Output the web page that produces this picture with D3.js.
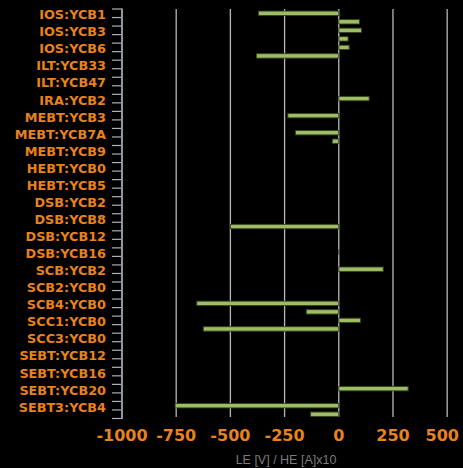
<!DOCTYPE html>
<html>
<head>
<meta charset="utf-8">
<script src="https://cdn.jsdelivr.net/npm/d3@7"></script>
<style>
  html, body { margin: 0; padding: 0; background: #000; }
  svg { display: block; }
</style>
</head>
<body>
<svg id="chart" width="463" height="468"></svg>
<script>
// Corrector magnets, in beamline order (every other name is labelled)
const magnets = [
  "IOS:YCB1", "IOS:YCB2", "IOS:YCB3", "IOS:YCB5", "IOS:YCB6", "ILT:YCB15",
  "ILT:YCB33", "ILT:YCB40", "ILT:YCB47", "ILT:YCB55", "IRA:YCB2", "IRA:YCB5",
  "MEBT:YCB3", "MEBT:YCB5", "MEBT:YCB7A", "MEBT:YCB8", "MEBT:YCB9", "MEBT:YCB11",
  "HEBT:YCB0", "HEBT:YCB3", "HEBT:YCB5", "HEBT:YCB8", "DSB:YCB2", "DSB:YCB5",
  "DSB:YCB8", "DSB:YCB10", "DSB:YCB12", "DSB:YCB14", "DSB:YCB16", "SCB:YCB0",
  "SCB:YCB2", "SCB:YCB4", "SCB2:YCB0", "SCB3:YCB0", "SCB4:YCB0", "SCB4:YCB2",
  "SCC1:YCB0", "SCC2:YCB0", "SCC3:YCB0", "SEBT:YCB8", "SEBT:YCB12", "SEBT:YCB14",
  "SEBT:YCB16", "SEBT:YCB18", "SEBT:YCB20", "SEBT3:YCB2", "SEBT3:YCB4", "SEBT3:YCB6"
];

// Setpoint per magnet: LE in volts, HE in amps x10
const setpoints = [
  -370, 95, 105, 43, 48, -380,
  0, 0, 0, 0, 140, 0,
  -235, 0, -200, -30, 0, 0,
  0, 0, 0, 0, 0, 0,
  0, -500, 0, 0, 3, 0,
  205, 0, 0, 0, -655, -150,
  100, -625, 0, 0, 0, 0,
  0, 0, 320, 0, -755, -130
];

const xTicks = [-1000, -750, -500, -250, 0, 250, 500];
const xDomain = [-1000, 550];
const xTitle = "LE [V] / HE [A]x10";

const W = 463, H = 468;
const plotL = 122, plotR = 458, plotT = 9, plotB = 418.5;

const svg = d3.select("#chart");
svg.append("rect").attr("width", W).attr("height", H).attr("fill", "#000");

const x = d3.scaleLinear().domain(xDomain).range([plotL, plotR]);
const y = d3.scaleBand().domain(magnets).range([plotT, plotB]).paddingInner(0).paddingOuter(0);

const labelFont = "DejaVu Sans, sans-serif";
const orange = "#e8821c";

// vertical grid lines with their tick stubs
const grid = svg.append("g");
grid.selectAll("line")
  .data(xTicks.filter(t => t !== xDomain[0]))
  .join("line")
  .attr("x1", d => x(d)).attr("x2", d => x(d))
  .attr("y1", plotT).attr("y2", 417)
  .attr("stroke", "#b8b8b8")
  .attr("stroke-width", 1.3);

// bars
const rows = magnets.map((m, i) => ({ name: m, value: setpoints[i] }));
const barH = 4.4;
svg.append("g").selectAll("rect")
  .data(rows.filter(d => d.value !== 0))
  .join("rect")
  .attr("x", d => x(Math.min(0, d.value)))
  .attr("width", d => Math.abs(x(d.value) - x(0)))
  .attr("y", d => y(d.name) + y.bandwidth() / 2 - barH / 2)
  .attr("height", barH)
  .attr("fill", "#9dbd64")
  .attr("stroke", "#35421f")
  .attr("stroke-width", 0.9);

// y axis: a tick at every band boundary, labels on every other row
const yAxis = svg.append("g");
const bounds = d3.range(magnets.length + 1).map(i => plotT + i * y.bandwidth());
yAxis.selectAll("line.tick")
  .data(bounds)
  .join("line")
  .attr("class", "tick")
  .attr("x1", plotL - 10).attr("x2", plotL)
  .attr("y1", d => d).attr("y2", d => d)
  .attr("stroke", "#a9b1ba")
  .attr("stroke-width", 1.2);
yAxis.append("line")
  .attr("x1", plotL).attr("x2", plotL)
  .attr("y1", plotT - 0.5).attr("y2", plotB + 0.5)
  .attr("stroke", "#8e97a2")
  .attr("stroke-width", 2);
yAxis.selectAll("text")
  .data(magnets.filter((m, i) => i % 2 === 0))
  .join("text")
  .attr("x", plotL - 16)
  .attr("y", d => y(d) + y.bandwidth() / 2 + 1.5)
  .attr("dy", "0.35em")
  .attr("text-anchor", "end")
  .attr("font-family", labelFont)
  .attr("font-weight", "bold")
  .attr("font-size", "12.8px")
  .attr("fill", orange)
  .text(d => d);

// x tick labels, kept inside the canvas at the right edge
const xl = svg.append("g");
xl.selectAll("text")
  .data(xTicks)
  .join("text")
  .attr("x", d => x(d))
  .attr("y", 441)
  .attr("text-anchor", "middle")
  .attr("font-family", labelFont)
  .attr("font-weight", "bold")
  .attr("font-size", "16px")
  .attr("fill", orange)
  .text(d => d)
  .each(function () {
    const b = this.getBBox();
    const maxRight = W - 4;
    if (b.x + b.width > maxRight) {
      d3.select(this).attr("x", +d3.select(this).attr("x") - (b.x + b.width - maxRight));
    }
  });

svg.append("text")
  .attr("x", (plotL + plotR) / 2 - 4)
  .attr("y", 463.5)
  .attr("text-anchor", "middle")
  .attr("font-family", "Liberation Sans, Arial, sans-serif")
  .attr("font-size", "12.5px")
  .attr("fill", "#7c7c7c")
  .text(xTitle);
</script>
</body>
</html>
